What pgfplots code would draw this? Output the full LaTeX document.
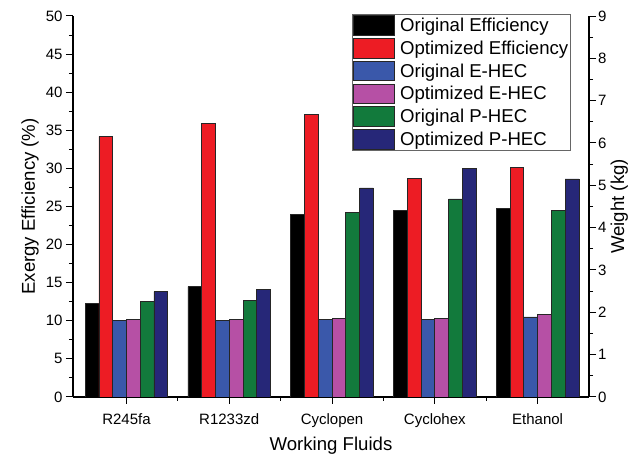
\documentclass[border=0pt]{standalone}
\usepackage{fontspec}
\setmainfont{Liberation Sans}
\usepackage{pgfplots}
\pgfplotsset{compat=1.18}

\definecolor{cOrigEff}{RGB}{0,0,0}
\definecolor{cOptEff}{RGB}{237,28,36}
\definecolor{cOrigE}{RGB}{58,88,170}
\definecolor{cOptE}{RGB}{182,80,165}
\definecolor{cOrigP}{RGB}{18,122,60}
\definecolor{cOptP}{RGB}{38,39,120}

\pgfplotsset{
  common/.style={
    scale only axis,
    width=516pt, height=381pt,
    at={(0pt,0pt)}, anchor=south west,
    xmin=-0.52, xmax=4.5,
    ymin=0,
    tick align=outside,
    major tick length=7pt, minor tick length=4pt,
    every tick/.style={black, line width=1pt},
    axis line style={line width=1.3pt},
    tick label style={font=\fontsize{15}{17}\selectfont},
    label style={font=\fontsize{18.6}{21}\selectfont},
    /pgf/number format/assume math mode=true,
    legend image code/.code={\draw[#1] (0pt,-9.5pt) rectangle (41pt,10pt);},
  },
  barstyle/.style={ybar, bar width=0.134, draw=black!85, line width=0.7pt, fill=#1},
}

\begin{document}
\begin{tikzpicture}
% Left axis: exergy efficiency
\begin{axis}[common,
  ymax=50,
  axis x line*=bottom, axis y line*=left,
  xtick={0,1,2,3,4},
  xticklabels={R245fa,R1233zd,Cyclopen,Cyclohex,Ethanol},
  xticklabel style={yshift=-6pt},
  minor xtick={0.5,1.5,2.5,3.5},
  ytick={0,5,...,50},
  minor y tick num=1,
  xlabel={Working Fluids},
  ylabel={Exergy Efficiency (\%)},
  xlabel style={at={(axis description cs:0.5,-0.1417)}, anchor=base},
  ylabel style={at={(axis description cs:-0.083,0.5)}, anchor=center},
]
\addplot[barstyle=cOrigEff, bar shift=-0.335] coordinates {(0,12.3) (1,14.5) (2,24.0) (3,24.5) (4,24.8)};
\addplot[barstyle=cOptEff, bar shift=-0.201] coordinates {(0,34.2) (1,35.9) (2,37.1) (3,28.7) (4,30.1)};
\end{axis}

% Right axis: heat exchanger weights
\begin{axis}[common,
  ymax=9,
  axis x line=none, axis y line*=right,
  ytick={0,1,...,9},
  minor y tick num=1,
  yticklabel style={xshift=-1.5pt},
  ylabel={Weight (kg)},
  ylabel style={at={(axis description cs:1.0585,0.5)}, anchor=center},
  legend style={at={(axis description cs:0.965,1.005)}, anchor=north east,
    font=\fontsize{18.6}{21}\selectfont, draw=black!60, line width=0.6pt,
    inner sep=1pt, row sep=2.6pt,
    nodes={inner sep=1.4pt},
    /tikz/every odd column/.append style={column sep=4pt}},
  legend cell align=left,
]
\addlegendimage{fill=cOrigEff, draw=black!85, line width=0.6pt}
\addlegendentry{Original Efficiency}
\addlegendimage{fill=cOptEff, draw=black!85, line width=0.6pt}
\addlegendentry{Optimized Efficiency}
\addplot[barstyle=cOrigE, bar shift=-0.067] coordinates {(0,1.81) (1,1.81) (2,1.84) (3,1.84) (4,1.89)};
\addlegendentry{Original E-HEC}
\addplot[barstyle=cOptE, bar shift=0.067] coordinates {(0,1.84) (1,1.84) (2,1.85) (3,1.85) (4,1.95)};
\addlegendentry{Optimized E-HEC}
\addplot[barstyle=cOrigP, bar shift=0.201] coordinates {(0,2.26) (1,2.29) (2,4.35) (3,4.68) (4,4.40)};
\addlegendentry{Original P-HEC}
\addplot[barstyle=cOptP, bar shift=0.335] coordinates {(0,2.49) (1,2.54) (2,4.94) (3,5.40) (4,5.15)};
\addlegendentry{Optimized P-HEC}
\end{axis}

\pgfresetboundingbox
\useasboundingbox (-73pt,-60pt) rectangle (556pt,397pt);
\end{tikzpicture}
\end{document}
